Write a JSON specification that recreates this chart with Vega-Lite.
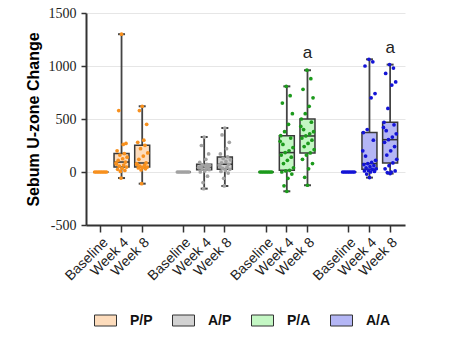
{
  "$schema": "https://vega.github.io/schema/vega-lite/v6.json",
  "width": 319,
  "height": 212,
  "autosize": "none",
  "padding": {"left": 86, "top": 13, "right": 70, "bottom": 128},
  "background": "white",
  "config": {
    "view": {"stroke": null},
    "font": "Liberation Sans"
  },
  "data": {"values": [
    {"g":"P/P","c":"P/P|Baseline","i":2,"v":0},{"g":"P/P","c":"P/P|Baseline","i":5,"v":0},{"g":"P/P","c":"P/P|Baseline","i":8,"v":0},{"g":"P/P","c":"P/P|Baseline","i":11,"v":0},{"g":"P/P","c":"P/P|Baseline","i":14,"v":0},{"g":"P/P","c":"P/P|Baseline","i":17,"v":0},{"g":"P/P","c":"P/P|Baseline","i":20,"v":0},{"g":"P/P","c":"P/P|Baseline","i":23,"v":0},
    {"g":"P/P","c":"P/P|Week 4","i":12,"v":-57},{"g":"P/P","c":"P/P|Week 4","i":11,"v":5},{"g":"P/P","c":"P/P|Week 4","i":19,"v":15},{"g":"P/P","c":"P/P|Week 4","i":6,"v":25},{"g":"P/P","c":"P/P|Week 4","i":14,"v":35},{"g":"P/P","c":"P/P|Week 4","i":22,"v":47},{"g":"P/P","c":"P/P|Week 4","i":9,"v":55},{"g":"P/P","c":"P/P|Week 4","i":17,"v":65},{"g":"P/P","c":"P/P|Week 4","i":4,"v":75},{"g":"P/P","c":"P/P|Week 4","i":3,"v":85},{"g":"P/P","c":"P/P|Week 4","i":20,"v":94},{"g":"P/P","c":"P/P|Week 4","i":7,"v":110},{"g":"P/P","c":"P/P|Week 4","i":15,"v":125},{"g":"P/P","c":"P/P|Week 4","i":23,"v":140},{"g":"P/P","c":"P/P|Week 4","i":10,"v":160},{"g":"P/P","c":"P/P|Week 4","i":18,"v":174},{"g":"P/P","c":"P/P|Week 4","i":5,"v":200},{"g":"P/P","c":"P/P|Week 4","i":16,"v":260},{"g":"P/P","c":"P/P|Week 4","i":21,"v":270},{"g":"P/P","c":"P/P|Week 4","i":8,"v":580},{"g":"P/P","c":"P/P|Week 4","i":13,"v":1300},
    {"g":"P/P","c":"P/P|Week 8","i":12,"v":-110},{"g":"P/P","c":"P/P|Week 8","i":11,"v":20},{"g":"P/P","c":"P/P|Week 8","i":19,"v":30},{"g":"P/P","c":"P/P|Week 8","i":6,"v":38},{"g":"P/P","c":"P/P|Week 8","i":14,"v":42},{"g":"P/P","c":"P/P|Week 8","i":22,"v":47},{"g":"P/P","c":"P/P|Week 8","i":9,"v":55},{"g":"P/P","c":"P/P|Week 8","i":17,"v":62},{"g":"P/P","c":"P/P|Week 8","i":4,"v":70},{"g":"P/P","c":"P/P|Week 8","i":3,"v":78},{"g":"P/P","c":"P/P|Week 8","i":20,"v":85},{"g":"P/P","c":"P/P|Week 8","i":7,"v":120},{"g":"P/P","c":"P/P|Week 8","i":15,"v":150},{"g":"P/P","c":"P/P|Week 8","i":23,"v":180},{"g":"P/P","c":"P/P|Week 8","i":10,"v":220},{"g":"P/P","c":"P/P|Week 8","i":18,"v":252},{"g":"P/P","c":"P/P|Week 8","i":5,"v":280},{"g":"P/P","c":"P/P|Week 8","i":16,"v":300},{"g":"P/P","c":"P/P|Week 8","i":21,"v":450},{"g":"P/P","c":"P/P|Week 8","i":8,"v":580},{"g":"P/P","c":"P/P|Week 8","i":13,"v":620},
    {"g":"A/P","c":"A/P|Baseline","i":2,"v":0},{"g":"A/P","c":"A/P|Baseline","i":5,"v":0},{"g":"A/P","c":"A/P|Baseline","i":8,"v":0},{"g":"A/P","c":"A/P|Baseline","i":11,"v":0},{"g":"A/P","c":"A/P|Baseline","i":14,"v":0},{"g":"A/P","c":"A/P|Baseline","i":17,"v":0},{"g":"A/P","c":"A/P|Baseline","i":20,"v":0},{"g":"A/P","c":"A/P|Baseline","i":23,"v":0},
    {"g":"A/P","c":"A/P|Week 4","i":12,"v":-157},{"g":"A/P","c":"A/P|Week 4","i":11,"v":-100},{"g":"A/P","c":"A/P|Week 4","i":19,"v":-40},{"g":"A/P","c":"A/P|Week 4","i":6,"v":0},{"g":"A/P","c":"A/P|Week 4","i":14,"v":10},{"g":"A/P","c":"A/P|Week 4","i":22,"v":22},{"g":"A/P","c":"A/P|Week 4","i":9,"v":30},{"g":"A/P","c":"A/P|Week 4","i":17,"v":36},{"g":"A/P","c":"A/P|Week 4","i":4,"v":40},{"g":"A/P","c":"A/P|Week 4","i":3,"v":44},{"g":"A/P","c":"A/P|Week 4","i":20,"v":47},{"g":"A/P","c":"A/P|Week 4","i":7,"v":52},{"g":"A/P","c":"A/P|Week 4","i":15,"v":58},{"g":"A/P","c":"A/P|Week 4","i":23,"v":62},{"g":"A/P","c":"A/P|Week 4","i":10,"v":68},{"g":"A/P","c":"A/P|Week 4","i":18,"v":73},{"g":"A/P","c":"A/P|Week 4","i":5,"v":90},{"g":"A/P","c":"A/P|Week 4","i":16,"v":120},{"g":"A/P","c":"A/P|Week 4","i":21,"v":170},{"g":"A/P","c":"A/P|Week 4","i":8,"v":250},{"g":"A/P","c":"A/P|Week 4","i":13,"v":330},
    {"g":"A/P","c":"A/P|Week 8","i":12,"v":-132},{"g":"A/P","c":"A/P|Week 8","i":11,"v":-60},{"g":"A/P","c":"A/P|Week 8","i":19,"v":-10},{"g":"A/P","c":"A/P|Week 8","i":6,"v":5},{"g":"A/P","c":"A/P|Week 8","i":14,"v":15},{"g":"A/P","c":"A/P|Week 8","i":22,"v":25},{"g":"A/P","c":"A/P|Week 8","i":9,"v":35},{"g":"A/P","c":"A/P|Week 8","i":17,"v":45},{"g":"A/P","c":"A/P|Week 8","i":4,"v":55},{"g":"A/P","c":"A/P|Week 8","i":3,"v":65},{"g":"A/P","c":"A/P|Week 8","i":20,"v":73},{"g":"A/P","c":"A/P|Week 8","i":7,"v":85},{"g":"A/P","c":"A/P|Week 8","i":15,"v":100},{"g":"A/P","c":"A/P|Week 8","i":23,"v":115},{"g":"A/P","c":"A/P|Week 8","i":10,"v":128},{"g":"A/P","c":"A/P|Week 8","i":18,"v":142},{"g":"A/P","c":"A/P|Week 8","i":5,"v":170},{"g":"A/P","c":"A/P|Week 8","i":16,"v":220},{"g":"A/P","c":"A/P|Week 8","i":21,"v":280},{"g":"A/P","c":"A/P|Week 8","i":8,"v":350},{"g":"A/P","c":"A/P|Week 8","i":13,"v":415},
    {"g":"P/A","c":"P/A|Baseline","i":2,"v":0},{"g":"P/A","c":"P/A|Baseline","i":5,"v":0},{"g":"P/A","c":"P/A|Baseline","i":8,"v":0},{"g":"P/A","c":"P/A|Baseline","i":11,"v":0},{"g":"P/A","c":"P/A|Baseline","i":14,"v":0},{"g":"P/A","c":"P/A|Baseline","i":17,"v":0},{"g":"P/A","c":"P/A|Baseline","i":20,"v":0},{"g":"P/A","c":"P/A|Baseline","i":23,"v":0},
    {"g":"P/A","c":"P/A|Week 4","i":13,"v":-182},{"g":"P/A","c":"P/A|Week 4","i":8,"v":-130},{"g":"P/A","c":"P/A|Week 4","i":15,"v":-60},{"g":"P/A","c":"P/A|Week 4","i":22,"v":-20},{"g":"P/A","c":"P/A|Week 4","i":4,"v":0},{"g":"P/A","c":"P/A|Week 4","i":11,"v":10},{"g":"P/A","c":"P/A|Week 4","i":18,"v":16},{"g":"P/A","c":"P/A|Week 4","i":25,"v":40},{"g":"P/A","c":"P/A|Week 4","i":7,"v":80},{"g":"P/A","c":"P/A|Week 4","i":14,"v":110},{"g":"P/A","c":"P/A|Week 4","i":21,"v":140},{"g":"P/A","c":"P/A|Week 4","i":3,"v":160},{"g":"P/A","c":"P/A|Week 4","i":10,"v":183},{"g":"P/A","c":"P/A|Week 4","i":17,"v":200},{"g":"P/A","c":"P/A|Week 4","i":24,"v":230},{"g":"P/A","c":"P/A|Week 4","i":6,"v":260},{"g":"P/A","c":"P/A|Week 4","i":1,"v":290},{"g":"P/A","c":"P/A|Week 4","i":20,"v":320},{"g":"P/A","c":"P/A|Week 4","i":2,"v":343},{"g":"P/A","c":"P/A|Week 4","i":9,"v":380},{"g":"P/A","c":"P/A|Week 4","i":16,"v":450},{"g":"P/A","c":"P/A|Week 4","i":23,"v":550},{"g":"P/A","c":"P/A|Week 4","i":5,"v":650},{"g":"P/A","c":"P/A|Week 4","i":19,"v":720},{"g":"P/A","c":"P/A|Week 4","i":12,"v":808},
    {"g":"P/A","c":"P/A|Week 8","i":13,"v":-125},{"g":"P/A","c":"P/A|Week 8","i":8,"v":-50},{"g":"P/A","c":"P/A|Week 8","i":15,"v":30},{"g":"P/A","c":"P/A|Week 8","i":22,"v":80},{"g":"P/A","c":"P/A|Week 8","i":4,"v":120},{"g":"P/A","c":"P/A|Week 8","i":11,"v":160},{"g":"P/A","c":"P/A|Week 8","i":18,"v":180},{"g":"P/A","c":"P/A|Week 8","i":25,"v":210},{"g":"P/A","c":"P/A|Week 8","i":7,"v":240},{"g":"P/A","c":"P/A|Week 8","i":14,"v":270},{"g":"P/A","c":"P/A|Week 8","i":21,"v":300},{"g":"P/A","c":"P/A|Week 8","i":3,"v":320},{"g":"P/A","c":"P/A|Week 8","i":10,"v":340},{"g":"P/A","c":"P/A|Week 8","i":17,"v":360},{"g":"P/A","c":"P/A|Week 8","i":24,"v":380},{"g":"P/A","c":"P/A|Week 8","i":6,"v":400},{"g":"P/A","c":"P/A|Week 8","i":1,"v":430},{"g":"P/A","c":"P/A|Week 8","i":20,"v":470},{"g":"P/A","c":"P/A|Week 8","i":2,"v":500},{"g":"P/A","c":"P/A|Week 8","i":9,"v":550},{"g":"P/A","c":"P/A|Week 8","i":16,"v":620},{"g":"P/A","c":"P/A|Week 8","i":23,"v":700},{"g":"P/A","c":"P/A|Week 8","i":5,"v":780},{"g":"P/A","c":"P/A|Week 8","i":19,"v":880},{"g":"P/A","c":"P/A|Week 8","i":12,"v":960},
    {"g":"A/A","c":"A/A|Baseline","i":2,"v":0},{"g":"A/A","c":"A/A|Baseline","i":5,"v":0},{"g":"A/A","c":"A/A|Baseline","i":8,"v":0},{"g":"A/A","c":"A/A|Baseline","i":11,"v":0},{"g":"A/A","c":"A/A|Baseline","i":14,"v":0},{"g":"A/A","c":"A/A|Baseline","i":17,"v":0},{"g":"A/A","c":"A/A|Baseline","i":20,"v":0},{"g":"A/A","c":"A/A|Baseline","i":23,"v":0},
    {"g":"A/A","c":"A/A|Week 4","i":13,"v":-53},{"g":"A/A","c":"A/A|Week 4","i":8,"v":-20},{"g":"A/A","c":"A/A|Week 4","i":15,"v":0},{"g":"A/A","c":"A/A|Week 4","i":22,"v":5},{"g":"A/A","c":"A/A|Week 4","i":4,"v":10},{"g":"A/A","c":"A/A|Week 4","i":11,"v":15},{"g":"A/A","c":"A/A|Week 4","i":18,"v":25},{"g":"A/A","c":"A/A|Week 4","i":25,"v":30},{"g":"A/A","c":"A/A|Week 4","i":7,"v":40},{"g":"A/A","c":"A/A|Week 4","i":14,"v":50},{"g":"A/A","c":"A/A|Week 4","i":21,"v":60},{"g":"A/A","c":"A/A|Week 4","i":3,"v":70},{"g":"A/A","c":"A/A|Week 4","i":10,"v":79},{"g":"A/A","c":"A/A|Week 4","i":17,"v":90},{"g":"A/A","c":"A/A|Week 4","i":24,"v":110},{"g":"A/A","c":"A/A|Week 4","i":6,"v":150},{"g":"A/A","c":"A/A|Week 4","i":1,"v":200},{"g":"A/A","c":"A/A|Week 4","i":20,"v":300},{"g":"A/A","c":"A/A|Week 4","i":2,"v":372},{"g":"A/A","c":"A/A|Week 4","i":9,"v":400},{"g":"A/A","c":"A/A|Week 4","i":16,"v":700},{"g":"A/A","c":"A/A|Week 4","i":23,"v":740},{"g":"A/A","c":"A/A|Week 4","i":5,"v":1000},{"g":"A/A","c":"A/A|Week 4","i":19,"v":1040},{"g":"A/A","c":"A/A|Week 4","i":12,"v":1063},
    {"g":"A/A","c":"A/A|Week 8","i":13,"v":-15},{"g":"A/A","c":"A/A|Week 8","i":8,"v":-5},{"g":"A/A","c":"A/A|Week 8","i":15,"v":0},{"g":"A/A","c":"A/A|Week 8","i":22,"v":10},{"g":"A/A","c":"A/A|Week 8","i":4,"v":30},{"g":"A/A","c":"A/A|Week 8","i":11,"v":60},{"g":"A/A","c":"A/A|Week 8","i":18,"v":85},{"g":"A/A","c":"A/A|Week 8","i":25,"v":120},{"g":"A/A","c":"A/A|Week 8","i":7,"v":160},{"g":"A/A","c":"A/A|Week 8","i":14,"v":200},{"g":"A/A","c":"A/A|Week 8","i":21,"v":240},{"g":"A/A","c":"A/A|Week 8","i":3,"v":280},{"g":"A/A","c":"A/A|Week 8","i":10,"v":305},{"g":"A/A","c":"A/A|Week 8","i":17,"v":330},{"g":"A/A","c":"A/A|Week 8","i":24,"v":360},{"g":"A/A","c":"A/A|Week 8","i":6,"v":390},{"g":"A/A","c":"A/A|Week 8","i":1,"v":420},{"g":"A/A","c":"A/A|Week 8","i":20,"v":445},{"g":"A/A","c":"A/A|Week 8","i":2,"v":469},{"g":"A/A","c":"A/A|Week 8","i":9,"v":600},{"g":"A/A","c":"A/A|Week 8","i":16,"v":820},{"g":"A/A","c":"A/A|Week 8","i":23,"v":850},{"g":"A/A","c":"A/A|Week 8","i":5,"v":930},{"g":"A/A","c":"A/A|Week 8","i":19,"v":980},{"g":"A/A","c":"A/A|Week 8","i":12,"v":1013}
  ]},
  "encoding": {
    "x": {
      "field": "c", "type": "nominal", "title": null,
      "scale": {
        "domain": ["P/P|Baseline","P/P|Week 4","P/P|Week 8","s1","A/P|Baseline","A/P|Week 4","A/P|Week 8","s2","P/A|Baseline","P/A|Week 4","P/A|Week 8","s3","A/A|Baseline","A/A|Week 4","A/A|Week 8"],
        "paddingInner": 0.3, "paddingOuter": 0.37
      },
      "axis": {
        "values": ["P/P|Baseline","P/P|Week 4","P/P|Week 8","A/P|Baseline","A/P|Week 4","A/P|Week 8","P/A|Baseline","P/A|Week 4","P/A|Week 8","A/A|Baseline","A/A|Week 4","A/A|Week 8"],
        "labelExpr": "split(datum.value, '|')[1]",
        "labelAngle": -45, "labelFont": "Liberation Sans", "labelFontSize": 14, "labelColor": "#222",
        "labelPadding": 3, "tickSize": 7, "tickColor": "#333", "tickWidth": 1.5,
        "domainColor": "#333", "domainWidth": 2, "grid": false
      }
    }
  },
  "layer": [
    {
      "transform": [
        {"aggregate": [
          {"op": "min", "field": "v", "as": "lo"},
          {"op": "max", "field": "v", "as": "hi"},
          {"op": "q1", "field": "v", "as": "q1"},
          {"op": "q3", "field": "v", "as": "q3"},
          {"op": "median", "field": "v", "as": "med"}
        ], "groupby": ["c", "g"]}
      ],
      "layer": [
        {
          "mark": {"type": "rule", "color": "#444", "strokeWidth": 1.8},
          "encoding": {
            "y": {
              "field": "lo", "type": "quantitative", "title": "Sebum U-zone Change",
              "scale": {"domain": [-500, 1500], "nice": false, "zero": false},
              "axis": {
                "values": [-500, 0, 500, 1000, 1500],
                "labelExpr": "'' + datum.value",
                "grid": true, "gridColor": "#e6e6e6", "gridWidth": 1,
                "domainColor": "#333", "domainWidth": 2,
                "tickColor": "#333", "tickSize": 5, "tickWidth": 1.5,
                "labelFont": "Liberation Serif", "labelFontSize": 14, "labelColor": "#222", "labelPadding": 5,
                "titleFont": "Liberation Sans", "titleFontWeight": "bold",
                "titleFontSize": 16, "titleColor": "#000", "titlePadding": 7
              }
            },
            "y2": {"field": "hi"}
          }
        },
        {
          "mark": {"type": "bar", "size": 15, "stroke": "#3a3a3a", "strokeWidth": 1.5},
          "encoding": {
            "y": {"field": "q1", "type": "quantitative", "title": "Sebum U-zone Change"},
            "y2": {"field": "q3"},
            "fill": {
              "field": "g", "type": "nominal",
              "scale": {"domain": ["P/P", "A/P", "P/A", "A/A"], "range": ["#FDDCBC", "#D2D2D2", "#C4F7C4", "#B4B6F5"]},
              "legend": {
                "orient": "none", "legendX": 8, "legendY": 296, "direction": "horizontal", "title": null,
                "symbolType": "M-1,-0.5H1V0.5H-1Z", "symbolSize": 484,
                "symbolStrokeColor": "#333", "symbolStrokeWidth": 1, "symbolOpacity": 1,
                "labelFont": "Liberation Sans", "labelFontWeight": "bold", "labelFontSize": 14,
                "labelColor": "#111", "labelOffset": 13, "columnPadding": 17
              }
            }
          }
        },
        {
          "mark": {"type": "tick", "size": 15, "thickness": 1.5, "color": "#333", "opacity": 1},
          "encoding": {"y": {"field": "med", "type": "quantitative", "title": "Sebum U-zone Change"}}
        },
        {
          "mark": {"type": "tick", "size": 7, "thickness": 2, "color": "#444", "opacity": 1},
          "encoding": {"y": {"field": "hi", "type": "quantitative", "title": "Sebum U-zone Change"}}
        },
        {
          "mark": {"type": "tick", "size": 7, "thickness": 2, "color": "#444", "opacity": 1},
          "encoding": {"y": {"field": "lo", "type": "quantitative", "title": "Sebum U-zone Change"}}
        }
      ]
    },
    {
      "mark": {"type": "circle", "size": 14, "opacity": 1},
      "encoding": {
        "y": {"field": "v", "type": "quantitative", "title": "Sebum U-zone Change"},
        "xOffset": {"field": "i", "type": "nominal", "scale": {"paddingOuter": 2}},
        "color": {
          "field": "g", "type": "nominal", "legend": null,
          "scale": {"domain": ["P/P", "A/P", "P/A", "A/A"], "range": ["#F7901E", "#A2A2A2", "#1C9A1C", "#1414D6"]}
        }
      }
    },
    {
      "transform": [
        {"filter": {"field": "c", "oneOf": ["P/A|Week 8", "A/A|Week 8"]}},
        {"aggregate": [{"op": "max", "field": "v", "as": "top"}], "groupby": ["c"]}
      ],
      "mark": {"type": "text", "text": "a", "fontSize": 17, "font": "Liberation Sans", "baseline": "bottom", "dy": -8, "color": "#222"},
      "encoding": {"y": {"field": "top", "type": "quantitative", "title": "Sebum U-zone Change"}}
    }
  ]
}
